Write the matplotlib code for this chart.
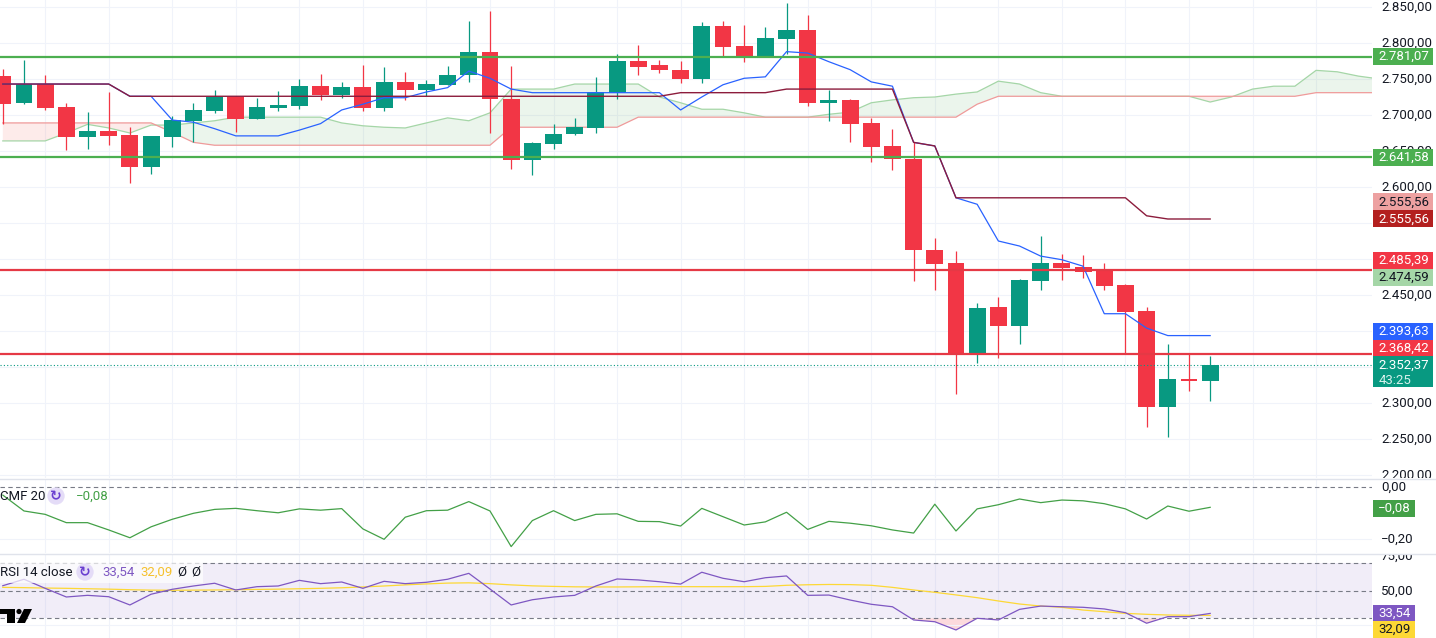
import matplotlib
matplotlib.use("Agg")
import matplotlib.pyplot as plt
from matplotlib.patches import Rectangle, Polygon, Circle
import numpy as np

plt.rcParams["font.family"] = ["Roboto", "DejaVu Sans"]

# --- candles (4h) ---
opens = [2754, 2716, 2743, 2711, 2670, 2678, 2672, 2628, 2670, 2692,
         2706, 2725, 2695, 2710, 2712, 2740, 2728, 2739, 2710, 2746,
         2735, 2742, 2755, 2787, 2722, 2638, 2660, 2673, 2682, 2731,
         2775, 2769, 2762, 2750, 2824, 2796, 2781, 2806, 2818, 2716,
         2721, 2689, 2657, 2639, 2512, 2494, 2366, 2433, 2407, 2470,
         2494, 2489, 2485, 2464, 2428, 2295, 2334, 2330]
highs = [2764, 2776, 2756, 2716, 2704, 2732, 2683, 2671, 2699, 2717,
         2735, 2726, 2723, 2733, 2750, 2757, 2746, 2769, 2767, 2760,
         2749, 2768, 2831, 2844, 2768, 2662, 2687, 2696, 2753, 2785,
         2797, 2776, 2775, 2829, 2831, 2825, 2822, 2855, 2839, 2735,
         2722, 2696, 2681, 2662, 2529, 2511, 2439, 2447, 2472, 2532,
         2507, 2506, 2495, 2465, 2433, 2382, 2368, 2365]
lows = [2687, 2715, 2707, 2652, 2653, 2659, 2605, 2618, 2655, 2663,
        2703, 2677, 2694, 2705, 2709, 2721, 2724, 2706, 2706, 2721,
        2727, 2741, 2746, 2675, 2625, 2616, 2653, 2672, 2675, 2722,
        2756, 2759, 2745, 2745, 2782, 2774, 2780, 2785, 2712, 2691,
        2662, 2635, 2623, 2469, 2457, 2313, 2356, 2362, 2382, 2457,
        2471, 2474, 2457, 2368, 2266, 2253, 2316, 2303]
closes = [2715, 2743, 2710, 2670, 2678, 2671, 2628, 2671, 2693, 2707,
          2725, 2695, 2711, 2714, 2740, 2728, 2739, 2710, 2746, 2735,
          2743, 2756, 2787, 2722, 2638, 2661, 2674, 2683, 2732, 2775,
          2767, 2762, 2750, 2824, 2795, 2781, 2807, 2818, 2716, 2721,
          2688, 2656, 2639, 2512, 2493, 2366, 2432, 2407, 2471, 2494,
          2488, 2482, 2463, 2427, 2295, 2334, 2330, 2352.37]

# --- ichimoku ---
tenkan = [2743, 2743, 2743, 2743, 2743, 2743, 2726, 2726, 2693, 2690,
          2681, 2671, 2671, 2671, 2679, 2688, 2707, 2715, 2724, 2724,
          2732, 2738, 2761, 2751, 2736, 2731, 2731, 2731, 2731, 2731,
          2731, 2731, 2707, 2725, 2742, 2751, 2753, 2788, 2786, 2774,
          2763, 2746, 2740, 2662, 2657, 2585, 2576, 2525, 2518, 2504,
          2499, 2490, 2424, 2424, 2404, 2393.63, 2393.63, 2393.63]
kijun = [2743, 2743, 2743, 2743, 2743, 2743, 2726, 2726, 2726, 2726,
         2726, 2726, 2726, 2726, 2726, 2726, 2726, 2726, 2726, 2726,
         2726, 2726, 2726, 2726, 2726, 2726, 2726, 2726, 2726, 2726,
         2726, 2726, 2731, 2731, 2731, 2731, 2731, 2736, 2736, 2736,
         2736, 2736, 2736, 2662, 2657, 2585, 2585, 2585, 2585, 2585,
         2585, 2585, 2585, 2585, 2560, 2555.56, 2555.56, 2555.56]
# leading spans, already shifted forward (66 bars)
span_a = [2664, 2664, 2664, 2675, 2687, 2682, 2675, 2686, 2686, 2689,
          2692, 2697, 2697, 2697, 2697, 2697, 2689, 2685, 2683, 2682,
          2689, 2696, 2692, 2703, 2736, 2736, 2736, 2743, 2743, 2743,
          2743, 2725, 2717, 2708, 2708, 2703, 2697, 2697, 2697, 2701,
          2704, 2717, 2721, 2724, 2725, 2729, 2732, 2747, 2743, 2731,
          2726, 2726, 2726, 2726, 2726, 2726, 2726, 2718, 2725, 2736,
          2740, 2740, 2762, 2760, 2754, 2750]
span_b = [2689, 2689, 2689, 2689, 2689, 2689, 2689, 2689, 2676, 2662,
          2658, 2658, 2658, 2658, 2658, 2658, 2658, 2658, 2658, 2658,
          2658, 2658, 2658, 2658, 2683, 2683, 2683, 2683, 2683, 2683,
          2697, 2697, 2697, 2697, 2697, 2697, 2697, 2697, 2697, 2697,
          2697, 2697, 2697, 2697, 2697, 2697, 2715, 2726, 2726, 2726,
          2726, 2726, 2726, 2726, 2726, 2726, 2726, 2726, 2726, 2726,
          2726, 2726, 2731, 2731, 2731, 2731]

support_lines = [2781.07, 2641.58]
resist_lines = [2485.39, 2368.42]
last_price = 2352.37
countdown = "43:25"
price_ticks = [2850, 2800, 2750, 2700, 2650, 2600, 2450, 2300, 2250, 2200]
lead_b_now = 2555.56
lead_a_now = 2474.59

# --- CMF 20 ---
cmf = [-0.030, -0.091, -0.104, -0.136, -0.136, -0.164, -0.194, -0.152, -0.123, -0.100,
       -0.085, -0.081, -0.090, -0.098, -0.083, -0.088, -0.082, -0.160, -0.200, -0.115,
       -0.090, -0.088, -0.055, -0.091, -0.228, -0.128, -0.090, -0.128, -0.104, -0.102,
       -0.131, -0.132, -0.149, -0.081, -0.113, -0.145, -0.133, -0.096, -0.162, -0.131,
       -0.138, -0.148, -0.164, -0.176, -0.065, -0.168, -0.083, -0.067, -0.045, -0.059,
       -0.049, -0.052, -0.063, -0.083, -0.122, -0.072, -0.092, -0.077]
cmf_last = -0.08

# --- RSI 14 ---
rsi = [53.7, 58.4, 51.8, 45.5, 46.7, 45.7, 39.7, 47.5, 51.1, 53.5,
       55.5, 50.6, 53.0, 53.5, 57.6, 55.2, 56.4, 51.8, 56.9, 55.2,
       56.2, 58.4, 62.7, 51.3, 39.7, 43.5, 45.5, 46.7, 53.5, 58.6,
       57.9, 56.6, 54.9, 63.5, 59.1, 56.6, 59.5, 60.8, 46.7, 46.9,
       43.3, 40.2, 38.4, 28.8, 27.5, 21.5, 30.0, 28.8, 36.5, 38.9,
       38.4, 38.0, 36.8, 34.1, 26.4, 31.2, 31.2, 33.54]
rsi_ma = [52.5, 52.3, 52.0, 51.8, 51.5, 51.2, 50.8, 50.5, 50.4, 50.5,
          50.6, 50.8, 51.0, 51.2, 51.5, 51.8, 52.2, 52.8, 53.5, 54.3,
          55.0, 55.6, 55.8, 55.2, 54.3, 53.6, 53.2, 52.9, 52.8, 52.8,
          52.9, 53.0, 53.0, 53.0, 53.0, 53.0, 53.2, 54.0, 54.4, 54.6,
          54.5, 54.0, 52.5, 50.6, 48.9, 47.0, 45.0, 42.6, 40.4, 38.9,
          38.0, 36.0, 34.8, 33.6, 32.9, 32.4, 32.2, 32.09]

UP, DOWN = "#089981", "#f23645"
GRID = "#f0f3fa"
TXT = "#131722"
W, H = 1436, 638
FS = 9.5
TX = 0.1    # text start inside the price scale
BW = 0.94   # full tag width


def tv(v):
    s = f"{v:,.2f}".replace(",", " ").replace(".", ",").replace(" ", ".")
    return s.replace("-", "\u2212")


fig = plt.figure(figsize=(W / 100, H / 100), dpi=100)


def px_axes(x0, y0, x1, y1):
    a = fig.add_axes([x0 / W, 1 - y1 / H, (x1 - x0) / W, (y1 - y0) / H])
    a.set_axis_off()
    return a


ax = px_axes(0, 0, 1372, 478)
axr = px_axes(1372, 0, 1436, 478)
axc = px_axes(0, 480, 1372, 553)
axcr = px_axes(1372, 480, 1436, 553)
axs = px_axes(0, 555, 1372, 638)
axsr = px_axes(1372, 555, 1436, 638)

xlim = (-0.132, 64.64)
ax.set_ylim(2195.83, 2859.72)
axc.set_ylim(-0.2527, 0.0281)
axs.set_ylim(15.67, 76.04)
for a, b in [(ax, axr), (axc, axcr), (axs, axsr)]:
    a.set_xlim(*xlim)
    b.set_xlim(0, 1)
    b.set_ylim(*a.get_ylim())
    for g in range(2, 65, 3):
        a.axvline(g, color=GRID, lw=0.8, zorder=0)

# main pane
for p in range(2200, 2851, 50):
    ax.axhline(p, color=GRID, lw=0.8, zorder=0)

x = np.arange(len(opens))
o = np.array(opens)
c = np.array(closes)
cols = [UP if cc >= oo else DOWN for oo, cc in zip(o, c)]

xc = np.arange(len(span_a))
sa = np.array(span_a)
sb = np.array(span_b)
ax.fill_between(xc, sa, sb, where=sa >= sb, interpolate=True, color="#43a047", alpha=0.1, lw=0, zorder=1)
ax.fill_between(xc, sa, sb, where=sa < sb, interpolate=True, color="#f44336", alpha=0.1, lw=0, zorder=1)
ax.plot(xc, sa, color="#a5d6a7", lw=0.9, zorder=1)
ax.plot(xc, sb, color="#ef9a9a", lw=0.9, zorder=1)

ax.vlines(x, lows, highs, colors=cols, lw=0.9, zorder=3)
ax.bar(x, c - o, bottom=o, width=0.8, color=cols, lw=0, zorder=3)

ax.plot(x, tenkan, color="#2962ff", lw=0.9, zorder=4)
ax.plot(x, kijun, color="#8c1c3c", lw=1.0, zorder=4)

for v in support_lines:
    ax.axhline(v, color="#4caf50", lw=1.6, zorder=5)
for v in resist_lines:
    ax.axhline(v, color="#e53945", lw=1.6, zorder=5)
ax.axhline(last_price, color=UP, lw=0.8, ls=(0, (1, 2)), zorder=5)

# price scale
for v in price_ticks:
    axr.text(TX + 0.04, v, tv(v), ha="left", va="center", fontsize=FS, color=TXT, clip_on=True)


def tag(a, v, text, bg, fg, h, shift=0.0, w=BW):
    y = v + shift
    a.add_patch(Rectangle((0.016, y - h / 2), w, h, fc=bg, ec="none", zorder=5))
    a.text(TX, y, text, ha="left", va="center", color=fg, fontsize=FS, zorder=6)


hm = 17 / 0.72
tag(axr, support_lines[0], tv(support_lines[0]), "#4caf50", "white", hm)
tag(axr, support_lines[1], tv(support_lines[1]), "#4caf50", "white", hm)
tag(axr, lead_b_now, tv(lead_b_now), "#eda1a1", TXT, hm, 17 / 0.72)
tag(axr, kijun[-1], tv(kijun[-1]), "#b3201f", "white", hm)
tag(axr, resist_lines[0], tv(resist_lines[0]), "#f23645", "white", hm, 9 / 0.72)
tag(axr, lead_a_now, tv(lead_a_now), "#a5d6a7", TXT, hm)
tag(axr, tenkan[-1], tv(tenkan[-1]), "#2962ff", "white", hm, 4 / 0.72)
tag(axr, resist_lines[1], tv(resist_lines[1]), "#f23645", "white", hm, 5 / 0.72)
axr.add_patch(Rectangle((0.016, last_price - 22 / 0.72), BW, 31 / 0.72, fc=UP, ec="none", zorder=5))
axr.text(TX, last_price, tv(last_price), ha="left", va="center", color="white", fontsize=FS, zorder=6)
axr.text(TX, last_price - 15 / 0.72, countdown, ha="left", va="center", color="#d6f2ec",
         fontsize=FS, zorder=6)

# CMF pane
axc.axhline(0, color="#787b86", lw=0.8, ls=(0, (4, 3)))
axc.axhline(-0.2, color=GRID, lw=0.8)
axc.plot(x, cmf, color="#43a047", lw=0.9)
axcr.text(TX + 0.04, 0.0, "0,00", ha="left", va="center", fontsize=FS, color=TXT)
axcr.text(TX + 0.04, -0.2, tv(-0.2), ha="left", va="center", fontsize=FS, color=TXT)
tag(axcr, cmf_last, tv(cmf_last), "#43a047", "white", 17 / 260, w=0.66)

# RSI pane
r = np.array(rsi)
axs.axhspan(30, 70, color="#7e57c2", alpha=0.1, lw=0)
for lv in (70, 50, 30):
    axs.axhline(lv, color="#787b86", lw=0.8, ls=(0, (4, 3)))
axs.axhline(25, color=GRID, lw=0.8)
axs.fill_between(x, r, 30, where=r < 30, interpolate=True, color="#f23645", alpha=0.18, lw=0)
axs.plot(x, rsi_ma, color="#fdd835", lw=0.9)
axs.plot(x, r, color="#7e57c2", lw=0.9)
axsr.text(TX + 0.04, 75, "75,00", ha="left", va="center", fontsize=FS, color=TXT, clip_on=True)
axsr.text(TX + 0.04, 50, "50,00", ha="left", va="center", fontsize=FS, color=TXT)
tag(axsr, rsi[-1], tv(rsi[-1]), "#7e57c2", "white", 17 / 1.375, w=0.66)
tag(axsr, rsi_ma[-1], tv(rsi_ma[-1]), "#fdd835", TXT, 17 / 1.375, -14 / 1.375, w=0.66)


# legends
def leg(a, dx, dy, s, color, ha="left", **kw):
    a.annotate(s, xy=(0, 1), xycoords="axes fraction", xytext=(dx, dy),
               textcoords="offset pixels", ha=ha, va="center", fontsize=FS,
               color=color, zorder=8, **kw)


def icon(a, dx, dy):
    a.annotate("\u21bb", xy=(0, 1), xycoords="axes fraction", xytext=(dx, dy),
               textcoords="offset pixels", ha="center", va="center", fontsize=10,
               color="#6a3fd0", family=["DejaVu Sans"], fontweight="bold", zorder=8,
               bbox=dict(boxstyle="circle,pad=0.12", fc="#e4dcf7", ec="none"))


leg(axc, 0, -16, "CMF 20", TXT)
icon(axc, 56, -16)
leg(axc, 76, -16, tv(cmf_last), "#43a047")

axs.add_patch(Rectangle((0, (638 - 583) / 83), 203 / 1372, 20 / 83, transform=axs.transAxes,
                        fc="white", ec="none", alpha=0.7, zorder=7))
leg(axs, 0, -17, "RSI 14 close", TXT)
icon(axs, 85, -17)
leg(axs, 102, -17, tv(rsi[-1]), "#7e57c2")
leg(axs, 140, -17, tv(rsi_ma[-1]), "#f5c12e")
leg(axs, 182, -17, "\u00d8", TXT, ha="center")
leg(axs, 196, -17, "\u00d8", TXT, ha="center")

# pane separators and logo
ov = fig.add_axes([0, 0, 1, 1], zorder=10)
ov.set_axis_off()
ov.set_xlim(0, W)
ov.set_ylim(H, 0)
ov.plot([0, W], [479, 479], color="#e0e3eb", lw=1)
ov.plot([0, W], [554, 554], color="#e0e3eb", lw=1)
ov.add_patch(Polygon([(0, 609), (15, 609), (15, 623), (7, 623), (7, 614), (0, 614)], fc="black", ec="none"))
ov.add_patch(Circle((19, 611.5), 2.6, fc="black", ec="none"))
ov.add_patch(Polygon([(24, 609), (32, 609), (25, 623), (17, 623)], fc="black", ec="none"))

fig.savefig("out.png", dpi=100, facecolor="white")
